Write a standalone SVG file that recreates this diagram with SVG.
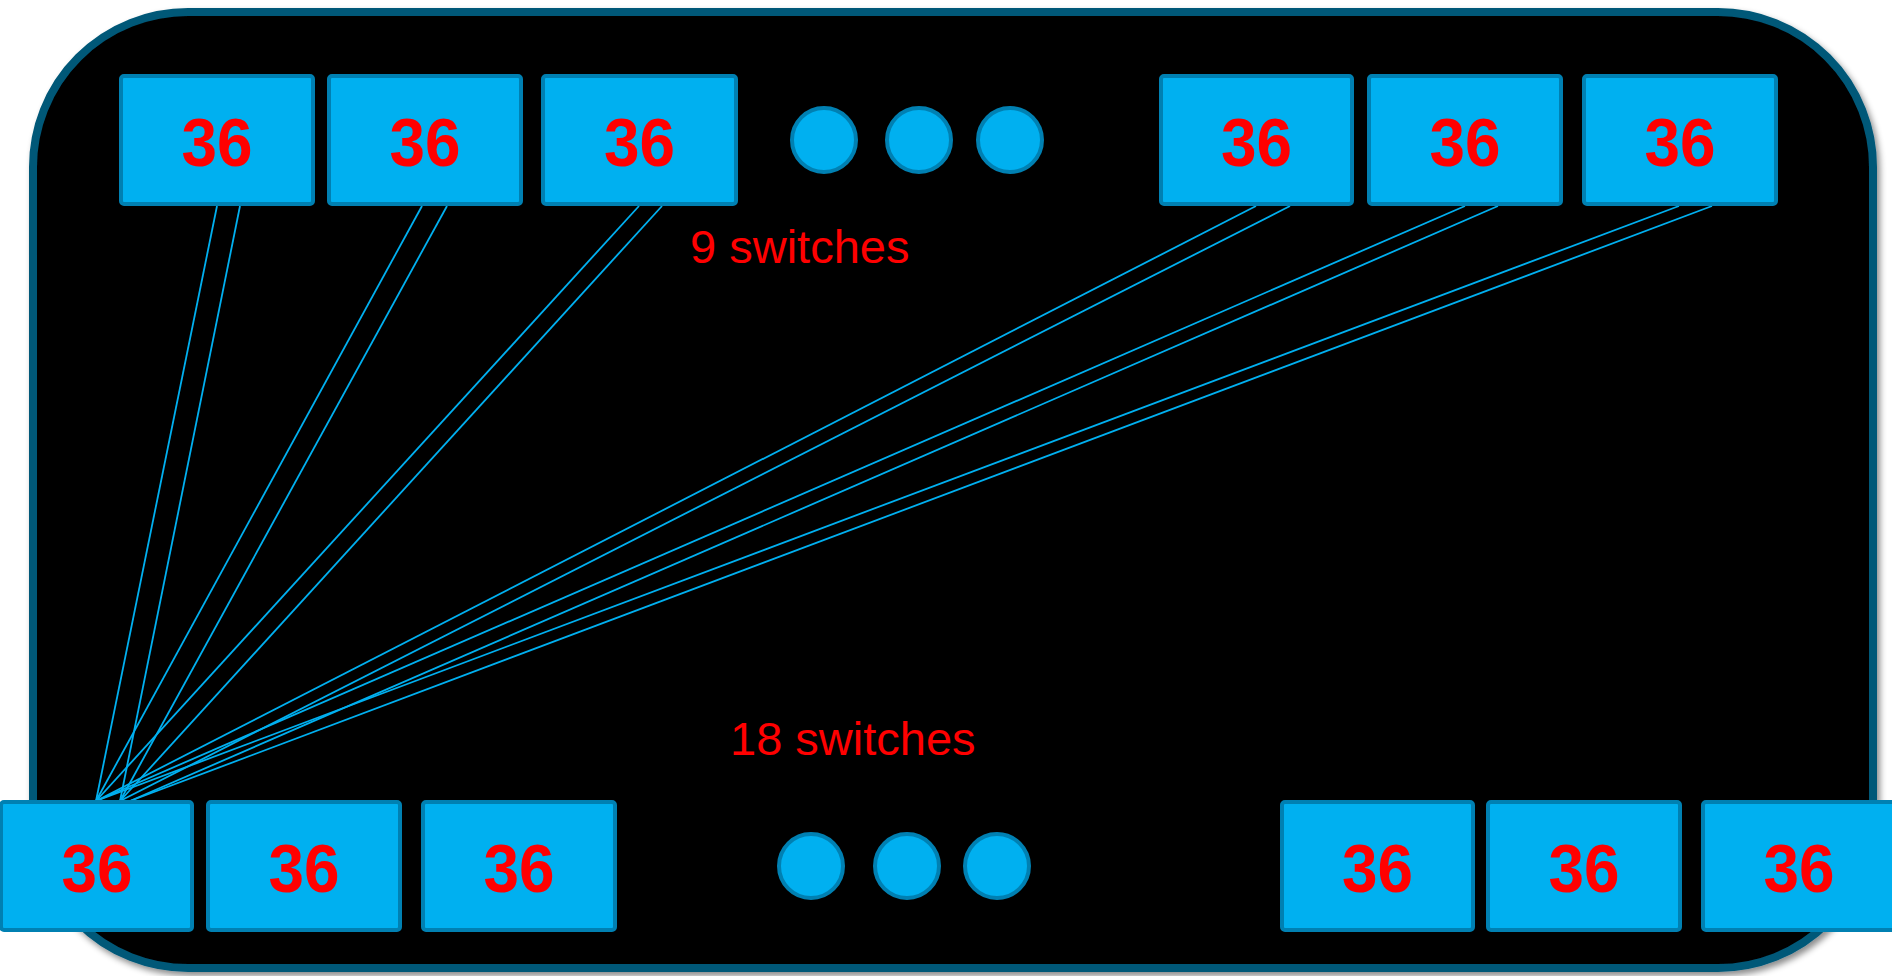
<svg xmlns="http://www.w3.org/2000/svg" width="1892" height="976" viewBox="0 0 1892 976">
  <style>
    .sw rect { fill: #00b0f0; stroke: #0080b2; stroke-width: 4; }
    .sw text { fill: #ff0000; font-family: "Liberation Sans", Arial, sans-serif; font-weight: bold; font-size: 68px; text-anchor: middle; }
    .dot { fill: #00b0f0; stroke: #0080b2; stroke-width: 4; }
    .link { stroke: #00b0f0; stroke-width: 1.8; fill: none; }
    .label { fill: #ff0000; font-family: "Liberation Sans", Arial, sans-serif; font-size: 47px; }
  </style>
  <defs>
    <filter id="shadow" x="-5%" y="-5%" width="110%" height="115%">
      <feDropShadow dx="3" dy="4" stdDeviation="3" flood-color="#000000" flood-opacity="0.45"/>
    </filter>
  </defs>

  <rect width="1892" height="976" fill="#ffffff"/>

  <!-- chassis outline -->
  <g id="chassis">
    <rect x="33" y="12" width="1840" height="956" rx="155" ry="155" fill="#000000" stroke="#005878" stroke-width="8" filter="url(#shadow)"/>
  </g>

  <!-- links from every spine switch to the first leaf switch -->
  <g id="connectors">
    <line class="link" x1="217" y1="206" x2="96" y2="801"/>
    <line class="link" x1="240" y1="206" x2="120" y2="801"/>
    <line class="link" x1="422" y1="206" x2="96" y2="801"/>
    <line class="link" x1="447" y1="206" x2="120" y2="801"/>
    <line class="link" x1="639" y1="206" x2="96" y2="801"/>
    <line class="link" x1="662" y1="206" x2="120" y2="801"/>
    <line class="link" x1="1256" y1="206" x2="96" y2="801"/>
    <line class="link" x1="1290" y1="206" x2="120" y2="801"/>
    <line class="link" x1="1465" y1="206" x2="96" y2="801"/>
    <line class="link" x1="1498" y1="206" x2="130" y2="801"/>
    <line class="link" x1="1679" y1="206" x2="96" y2="801"/>
    <line class="link" x1="1712" y1="206" x2="130" y2="801"/>
  </g>

  <!-- spine row -->
  <g id="spine1" class="sw"><rect x="121" y="76" width="192" height="128" rx="3"/><text x="217" y="166" textLength="71" lengthAdjust="spacingAndGlyphs">36</text></g>
  <g id="spine2" class="sw"><rect x="329" y="76" width="192" height="128" rx="3"/><text x="425" y="166" textLength="71" lengthAdjust="spacingAndGlyphs">36</text></g>
  <g id="spine3" class="sw"><rect x="543" y="76" width="193" height="128" rx="3"/><text x="639.5" y="166" textLength="71" lengthAdjust="spacingAndGlyphs">36</text></g>
  <g id="spine-more">
    <circle class="dot" cx="824" cy="140" r="32"/>
    <circle class="dot" cx="919" cy="140" r="32"/>
    <circle class="dot" cx="1010" cy="140" r="32"/>
  </g>
  <g id="spine4" class="sw"><rect x="1161" y="76" width="191" height="128" rx="3"/><text x="1256.5" y="166" textLength="71" lengthAdjust="spacingAndGlyphs">36</text></g>
  <g id="spine5" class="sw"><rect x="1369" y="76" width="192" height="128" rx="3"/><text x="1465" y="166" textLength="71" lengthAdjust="spacingAndGlyphs">36</text></g>
  <g id="spine6" class="sw"><rect x="1584" y="76" width="192" height="128" rx="3"/><text x="1680" y="166" textLength="71" lengthAdjust="spacingAndGlyphs">36</text></g>

  <g id="spine-label"><text class="label" x="690" y="263">9 switches</text></g>
  <g id="leaf-label"><text class="label" x="730" y="755">18 switches</text></g>

  <!-- leaf row -->
  <g id="leaf1" class="sw"><rect x="1" y="802" width="191" height="128" rx="3"/><text x="97" y="892" textLength="71" lengthAdjust="spacingAndGlyphs">36</text></g>
  <g id="leaf2" class="sw"><rect x="208" y="802" width="192" height="128" rx="3"/><text x="304" y="892" textLength="71" lengthAdjust="spacingAndGlyphs">36</text></g>
  <g id="leaf3" class="sw"><rect x="423" y="802" width="192" height="128" rx="3"/><text x="519" y="892" textLength="71" lengthAdjust="spacingAndGlyphs">36</text></g>
  <g id="leaf-more">
    <circle class="dot" cx="811" cy="866" r="32"/>
    <circle class="dot" cx="907" cy="866" r="32"/>
    <circle class="dot" cx="997" cy="866" r="32"/>
  </g>
  <g id="leaf4" class="sw"><rect x="1282" y="802" width="191" height="128" rx="3"/><text x="1377.5" y="892" textLength="71" lengthAdjust="spacingAndGlyphs">36</text></g>
  <g id="leaf5" class="sw"><rect x="1488" y="802" width="192" height="128" rx="3"/><text x="1584" y="892" textLength="71" lengthAdjust="spacingAndGlyphs">36</text></g>
  <g id="leaf6" class="sw"><rect x="1703" y="802" width="192" height="128" rx="3"/><text x="1799" y="892" textLength="71" lengthAdjust="spacingAndGlyphs">36</text></g>
</svg>
